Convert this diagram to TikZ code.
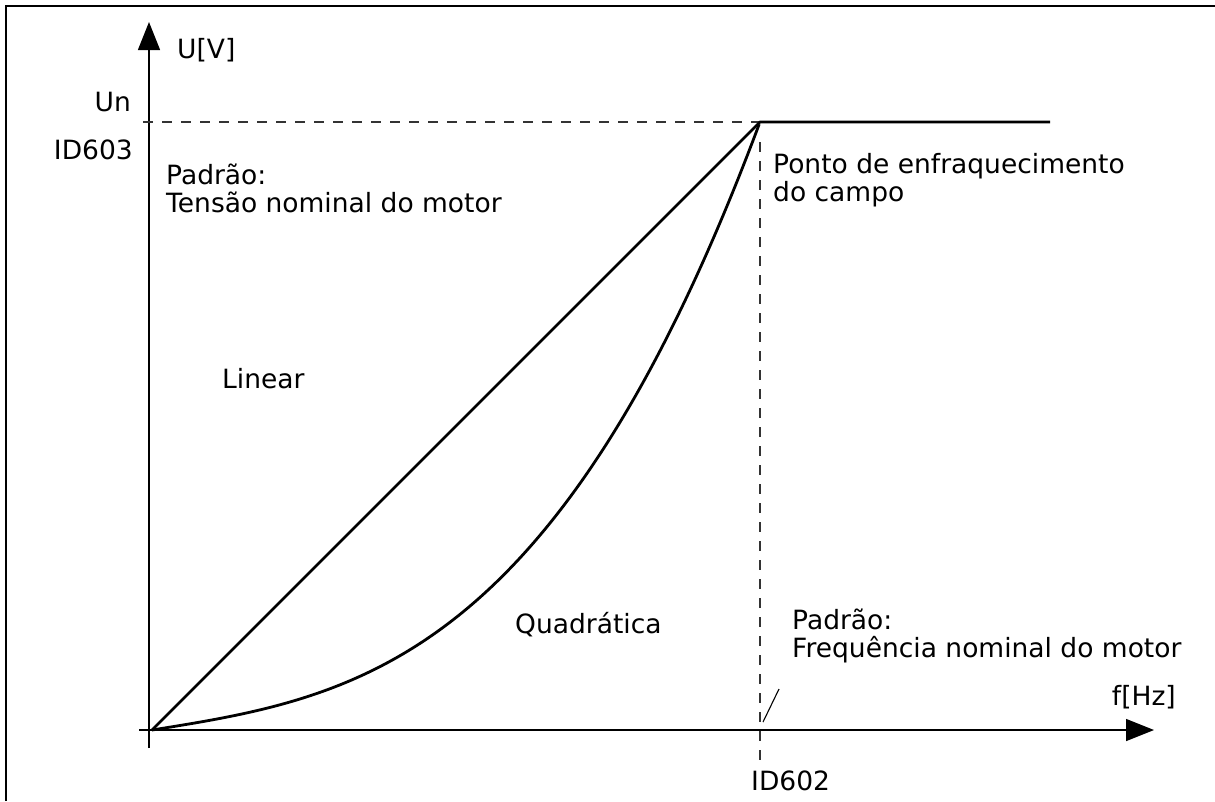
\documentclass[tikz,border=0pt]{standalone}
\usepackage{fontspec}
\setmainfont{DejaVu Sans}
\usetikzlibrary{arrows.meta}
\begin{document}
\begin{tikzpicture}[x=1pt,y=-1pt,
  lbl/.style={inner sep=0pt,font=\fontsize{26.5}{27.5}\selectfont,align=left},
  axis/.style={line width=1.4pt,-{Triangle[length=28pt,width=22pt]}},
  curve/.style={line width=2.8pt,line join=round},
  guide/.style={line width=1.3pt,draw=black!80,dash pattern=on 10pt off 9pt},
  frame/.style={line width=1.5pt}]
\useasboundingbox (0,0) rectangle (1215,801);
% frame
\draw[frame] (6,801) -- (6,6) -- (1215,6);
% key points
\coordinate (O) at (152,730);
\coordinate (P) at (760,122);
\coordinate (Pend) at (1050,122);
\coordinate (ys) at (149,748);
\coordinate (ye) at (149,22);
\coordinate (xs) at (139,730);
\coordinate (xe) at (1154,730);
\coordinate (UnL) at (143,122);
\coordinate (vT) at (760,142);
\coordinate (vB) at (760,762);
\coordinate (sA) at (763,722);
\coordinate (sB) at (779,689);
% axes
\draw[axis] (ys) -- (ye);
\draw[axis] (xs) -- (xe);
% guides
\draw[guide] (UnL) -- (P);
\draw[guide] (vT) -- (vB);
\draw[line width=1.1pt] (sA) -- (sB);
% curves
\draw[curve] (O) -- (P) -- (Pend);
\draw[curve] plot[domain=0:1,samples=120,smooth] ({152+608*\x},{730-608*(0.16*\x+0.84*\x*\x*\x)});
% labels
\node[lbl,anchor=base west] (uv) at (177,58) {U[V]};
\node[lbl,anchor=base east] (un) at (131,111) {Un};
\node[lbl,anchor=base east] (id603) at (133,159) {ID603};
\node[lbl,anchor=base west] (pad1) at (166,212) {Padrão:\\Tensão nominal do motor};
\node[lbl,anchor=base west] (ponto) at (773,201) {Ponto de enfraquecimento\\do campo};
\node[lbl,anchor=base west] (lin) at (222,388) {Linear};
\node[lbl,anchor=base west] (quad) at (515,633) {Quadrática};
\node[lbl,anchor=base west] (pad2) at (792,657) {Padrão:\\Frequência nominal do motor};
\node[lbl,anchor=base east] (fhz) at (1176,705) {f[Hz]};
\node[lbl,anchor=base west] (id602) at (751,790) {ID602};
\end{tikzpicture}
\end{document}
